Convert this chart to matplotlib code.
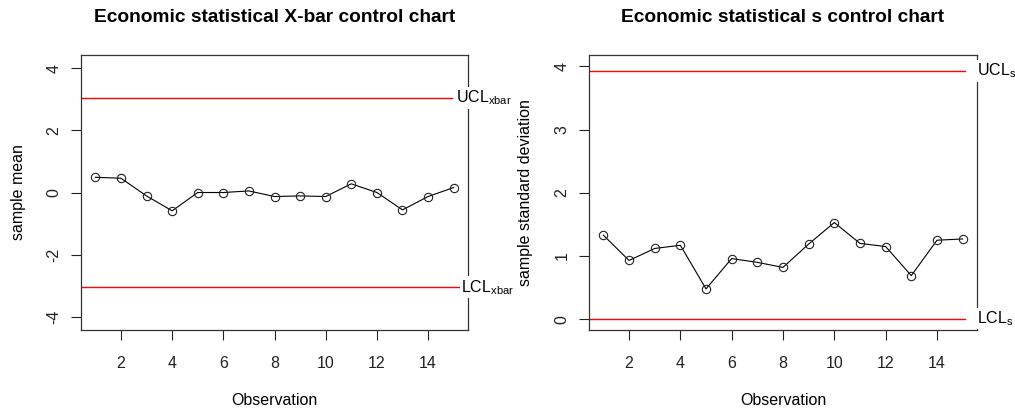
import numpy as np
import matplotlib.pyplot as plt

plt.rcParams['font.family'] = ['Liberation Sans', 'DejaVu Sans']
plt.rcParams['mathtext.fontset'] = 'custom'
plt.rcParams['mathtext.rm'] = 'Liberation Sans'
plt.rcParams['mathtext.it'] = 'Liberation Sans'

# sample statistics for the 15 observations
obs = np.arange(1, 16)
xbar = [0.49, 0.46, -0.11, -0.59, 0.0, 0.0, 0.05, -0.13, -0.11, -0.13,
        0.28, 0.0, -0.56, -0.13, 0.16]
sdev = [1.33, 0.93, 1.12, 1.17, 0.48, 0.96, 0.90, 0.82, 1.19, 1.53,
        1.20, 1.15, 0.69, 1.25, 1.27]

# control limits
ucl_xbar, lcl_xbar = 3.05, -3.05
ucl_s, lcl_s = 3.93, 0.01

fs = 11.5
fig = plt.figure(figsize=(10.15, 4.12), dpi=100)
ax1 = fig.add_axes([81 / 1015, 82 / 412, 387 / 1015, 275 / 412])
ax2 = fig.add_axes([589 / 1015, 82 / 412, 388 / 1015, 275 / 412])


def style(ax, yticks):
    ax.set_xlim(0.44, 15.56)
    ax.set_xticks([2, 4, 6, 8, 10, 12, 14])
    ax.set_yticks(yticks)
    ax.tick_params(axis='both', direction='out', length=7, width=0.8,
                   labelsize=fs, colors='#222222')
    ax.tick_params(axis='x', pad=12)
    ax.tick_params(axis='y', pad=7)
    for lab in ax.get_yticklabels():
        lab.set_rotation(90)
        lab.set_va('center')
    for sp in ax.spines.values():
        sp.set_linewidth(0.9)
        sp.set_color('#333333')
    ax.set_xlabel('Observation', fontsize=fs)
    ax.xaxis.set_label_coords(0.5, -0.23)


def limit_label(ax, y, txt, xfrac):
    ax.text(xfrac, y, txt, transform=ax.get_yaxis_transform(), ha='left',
            va='center', fontsize=fs, clip_on=False, zorder=5,
            bbox=dict(facecolor='white', edgecolor='none', pad=1.0))


# X-bar chart
ax1.plot(obs, xbar, color='black', lw=0.8, marker='o', ms=6, mfc='none',
         mec='#222222', mew=0.8)
ax1.axhline(ucl_xbar, xmax=0.959, color='red', lw=1)
ax1.axhline(lcl_xbar, xmax=0.977, color='red', lw=1)
ax1.set_ylim(-4.43, 4.43)
style(ax1, [-4, -2, 0, 2, 4])
ax1.set_yticklabels(['-4', '-2', '0', '2', '4'])
limit_label(ax1, ucl_xbar, r'UCL$_{\mathrm{xbar}}$', 0.969)
limit_label(ax1, lcl_xbar, r'LCL$_{\mathrm{xbar}}$', 0.982)
ax1.set_ylabel('sample mean', fontsize=fs)
ax1.yaxis.set_label_coords(-0.142, 0.5)
ax1.set_title('Economic statistical X-bar control chart', fontsize=13.8,
              fontweight='bold', pad=24)

# s chart
ax2.plot(obs, sdev, color='black', lw=0.8, marker='o', ms=6, mfc='none',
         mec='#222222', mew=0.8)
ax2.axhline(ucl_s, xmax=0.969, color='red', lw=1)
ax2.axhline(lcl_s, xmax=0.969, color='red', lw=1)
ax2.set_ylim(-0.17, 4.18)
style(ax2, [0, 1, 2, 3, 4])
limit_label(ax2, ucl_s, r'UCL$_{\mathrm{s}}$', 1.0)
limit_label(ax2, lcl_s, r'LCL$_{\mathrm{s}}$', 1.0)
ax2.set_ylabel('sample standard deviation', fontsize=fs)
ax2.yaxis.set_label_coords(-0.145, 0.5)
ax2.set_title('Economic statistical s control chart', fontsize=13.8,
              fontweight='bold', pad=24)

fig.savefig('out.png', dpi=100)
